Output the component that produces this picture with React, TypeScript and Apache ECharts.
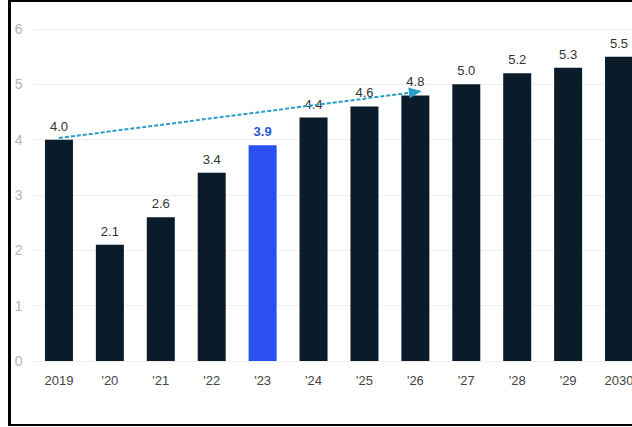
import React, { useEffect, useRef } from "react";
import * as echarts from "echarts";

const categories = ["2019", "'20", "'21", "'22", "'23", "'24", "'25", "'26", "'27", "'28", "'29", "2030"];
const values = [4.0, 2.1, 2.6, 3.4, 3.9, 4.4, 4.6, 4.8, 5.0, 5.2, 5.3, 5.5];
const highlightIndex = 4;
const arrowStart: [string, number] = ["2019", 4.03];
const arrowEnd: [string, number] = ["'26", 4.86];

const FONT = "'Liberation Sans', Arial, sans-serif";
const NAVY = "#0a1b2a";
const BLUE = "#2a50f2";

export default function App() {
  const ref = useRef<HTMLDivElement>(null);
  useEffect(() => {
    if (!ref.current) return;
    const chart = echarts.init(ref.current, undefined, { renderer: "svg" });
    chart.setOption({
      animation: false,
      backgroundColor: "transparent",
      grid: { left: 33.5, right: 15.5, top: 29, bottom: 66, containLabel: false },
      xAxis: {
        type: "category",
        data: categories,
        axisLine: { show: false },
        axisTick: { show: false },
        axisLabel: { color: "#444", fontSize: 13, fontFamily: FONT, margin: 13 },
      },
      yAxis: {
        type: "value",
        min: 0,
        max: 6,
        interval: 1,
        axisLine: { show: false },
        axisTick: { show: false },
        axisLabel: { color: "#b4b4b4", fontSize: 14, fontFamily: FONT, margin: 11 },
        splitLine: { lineStyle: { color: "#f0f0f0", width: 1 } },
      },
      series: [
        {
          type: "bar",
          barWidth: 28,
          data: values.map((v, i) =>
            i === highlightIndex
              ? {
                  value: v,
                  itemStyle: { color: BLUE },
                  label: { color: "#2d55d8", fontWeight: "bold" },
                }
              : { value: v }
          ),
          itemStyle: { color: NAVY },
          label: {
            show: true,
            position: "top",
            distance: 7,
            color: "#333",
            fontSize: 13,
            fontFamily: FONT,
            formatter: (p: any) => Number(p.value).toFixed(1),
          },
          markLine: {
            silent: true,
            symbol: ["none", "triangle"],
            symbolSize: [11, 13],
            label: { show: false },
            lineStyle: { color: "#2a9cc8", type: [4, 2], width: 2 },
            data: [[{ coord: arrowStart }, { coord: arrowEnd, itemStyle: { color: "#1e9bd8" } }]],
          },
        },
      ],
    });
    return () => chart.dispose();
  }, []);

  return (
    <div
      style={{
        position: "fixed",
        left: 8,
        top: 0,
        width: 624,
        height: 426,
        boxSizing: "border-box",
        borderLeft: "3px solid #000",
        borderTop: "2px solid #000",
        borderBottom: "2px solid #000",
        overflow: "hidden",
        background: "#fff",
      }}
    >
      <div ref={ref} style={{ position: "absolute", left: -11, top: -2, width: 660, height: 427 }} />
    </div>
  );
}
